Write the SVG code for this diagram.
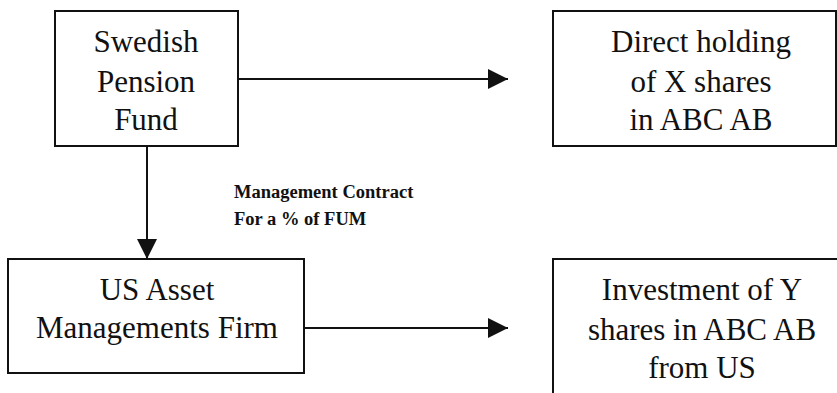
<svg xmlns="http://www.w3.org/2000/svg" width="837" height="393" viewBox="0 0 837 393">
  <style>
    .box { fill: #ffffff; stroke: #111111; stroke-width: 2; }
    .lbl { font-family: "Liberation Serif", "Times New Roman", serif; font-size: 31px; fill: #111111; text-anchor: middle; }
    .note { font-family: "Liberation Serif", "Times New Roman", serif; font-size: 18.5px; font-weight: bold; fill: #111111; }
    .wire { stroke: #111111; stroke-width: 2; fill: none; }
  </style>
  <defs>
    <marker id="head" viewBox="0 0 20 20" refX="20" refY="10" markerWidth="20" markerHeight="20" markerUnits="userSpaceOnUse" orient="auto">
      <path d="M0,0 L20,10 L0,20 Z" fill="#111111"/>
    </marker>
  </defs>
  <rect width="837" height="393" fill="#ffffff"/>

  <g id="connectors">
    <line class="wire" x1="238" y1="79" x2="508" y2="79" marker-end="url(#head)"/>
    <line class="wire" x1="147" y1="146" x2="147" y2="259" marker-end="url(#head)"/>
    <line class="wire" x1="304" y1="328" x2="508" y2="328" marker-end="url(#head)"/>
    <text class="note" x="234" y="198">Management Contract</text>
    <text class="note" x="234" y="225">For a % of FUM</text>
  </g>

  <g id="pension-fund">
    <rect class="box" x="55" y="11" width="183" height="135"/>
    <text class="lbl" x="146" y="52">Swedish</text>
    <text class="lbl" x="146" y="92">Pension</text>
    <text class="lbl" x="146" y="130">Fund</text>
  </g>

  <g id="direct-holding">
    <rect class="box" x="553" y="11" width="283" height="135"/>
    <text class="lbl" x="701" y="52">Direct holding</text>
    <text class="lbl" x="701" y="92">of X shares</text>
    <text class="lbl" x="701" y="130">in ABC AB</text>
  </g>

  <g id="asset-manager">
    <rect class="box" x="8" y="259" width="296" height="114"/>
    <text class="lbl" x="157" y="300">US Asset</text>
    <text class="lbl" x="157" y="338">Managements Firm</text>
  </g>

  <g id="us-investment">
    <rect class="box" x="553" y="259" width="300" height="150"/>
    <text class="lbl" x="702" y="300">Investment of Y</text>
    <text class="lbl" x="702" y="340">shares in ABC AB</text>
    <text class="lbl" x="702" y="378">from US</text>
  </g>
</svg>
